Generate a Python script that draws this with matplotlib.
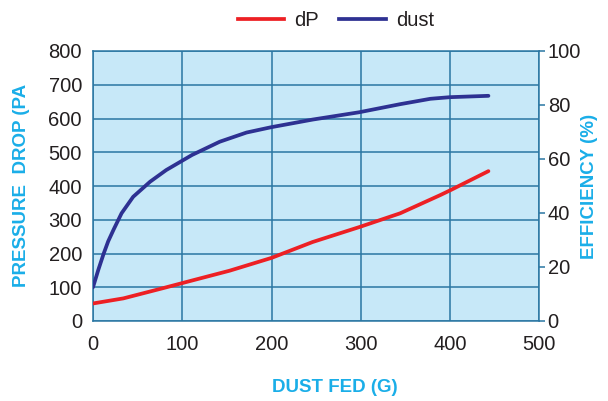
import matplotlib
matplotlib.use("Agg")
import matplotlib.pyplot as plt
from matplotlib.lines import Line2D

plt.rcParams['font.family'] = ['Liberation Sans', 'DejaVu Sans']

# Data
dust_x = [0, 6, 12, 17, 23, 32, 45, 64, 82, 111, 142, 172, 200, 246, 298, 344, 378, 400, 443]
dust_eff = [12.5, 19.0, 25.0, 29.5, 33.8, 39.9, 46.0, 51.6, 55.9, 61.5, 66.4, 69.8, 71.8, 74.6,
            77.3, 80.3, 82.3, 82.9, 83.4]
dp_x = [0, 34, 78, 111, 153, 200, 246, 298, 344, 389, 400, 443]
dp_vals = [52, 67, 97, 120, 149, 187, 234, 278, 319, 373, 387, 444]

x_ticks = [0, 100, 200, 300, 400, 500]
left_ticks = [0, 100, 200, 300, 400, 500, 600, 700, 800]
right_ticks = [0, 20, 40, 60, 80, 100]

RED = '#ed2024'
NAVY = '#2e3192'
GRID = '#2a76a3'
BG = '#c7e8f8'
LABEL = '#1aaee8'
TXT = '#231f20'

fig = plt.figure(figsize=(6.08, 4.01), dpi=100)
ax = fig.add_axes([93/608, 1-321/401, (539.3-93)/608, (321-51)/401])
ax.set_facecolor(BG)
ax.set_xlim(0, 500)
ax.set_ylim(0, 800)
ax.set_xticks(x_ticks)
ax.set_yticks(left_ticks)
ax.grid(True, color=GRID, linewidth=1.1)
ax.set_axisbelow(True)
for s in ax.spines.values():
    s.set_color(GRID)
    s.set_linewidth(1.1)
ax.tick_params(axis='both', length=0, labelsize=14.5, colors=TXT, pad=8)
ax.tick_params(axis='x', pad=10)

ax2 = ax.twinx()
ax2.set_ylim(0, 100)
ax2.set_yticks(right_ticks)
ax2.tick_params(axis='y', length=4, width=1.1, color=GRID, labelsize=14.5,
                labelcolor=TXT, pad=2)
for s in ax2.spines.values():
    s.set_visible(False)

ax.plot(dp_x, dp_vals, color=RED, linewidth=2.7, solid_capstyle='round', zorder=3)
ax2.plot(dust_x, dust_eff, color=NAVY, linewidth=2.7, solid_capstyle='round', zorder=3)

fig.text(22/608, 1-185/401, 'PRESSURE  DROP (PA', rotation=90, ha='center', va='center',
         color=LABEL, fontsize=13.5, fontweight='bold')
fig.text(590/608, 1-186/401, 'EFFICIENCY (%)', rotation=90, ha='center', va='center',
         color=LABEL, fontsize=13.5, fontweight='bold')
fig.text(335/608, 1-388/401, 'DUST FED (G)', ha='center', va='center',
         color=LABEL, fontsize=13.5, fontweight='bold')

handles = [Line2D([], [], color=RED, linewidth=2.7), Line2D([], [], color=NAVY, linewidth=2.7)]
fig.legend(handles, ['dP', 'dust'], ncol=2, frameon=False, loc='center',
           bbox_to_anchor=(336/608, 1-21/401), fontsize=14.5, handlelength=2.3,
           handletextpad=0.5, columnspacing=1.0, labelcolor=TXT)

fig.savefig('out.png', dpi=100)
